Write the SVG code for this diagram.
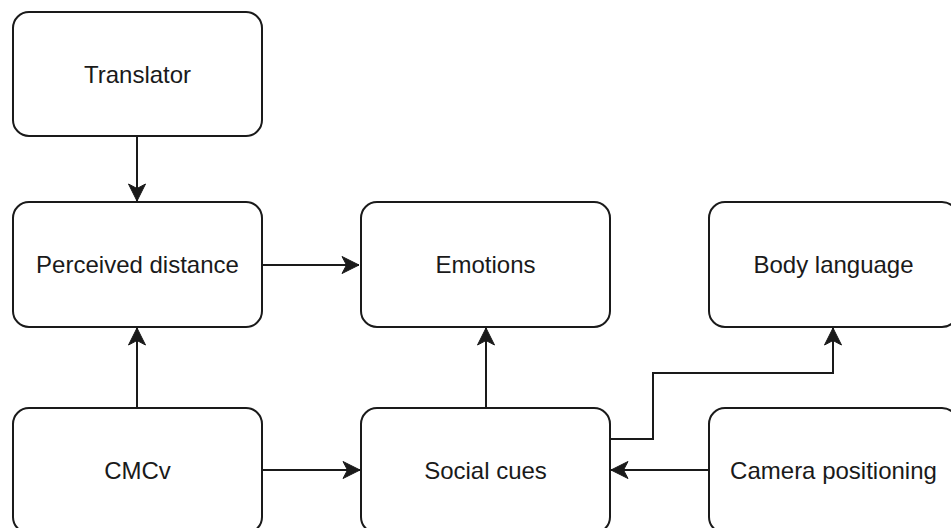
<svg xmlns="http://www.w3.org/2000/svg" width="951" height="528" viewBox="0 0 951 528">
  <style>
    .box { fill: #ffffff; stroke: #1a1a1a; stroke-width: 2; }
    .label { font-family: "Liberation Sans", Arial, sans-serif; font-size: 24px; fill: #1a1a1a; text-anchor: middle; }
    .edge { fill: none; stroke: #1a1a1a; stroke-width: 2; marker-end: url(#arrow); }
  </style>
  <defs>
    <marker id="arrow" markerUnits="userSpaceOnUse" markerWidth="20" markerHeight="20" viewBox="-18 -10 20 20" refX="0" refY="0" orient="auto">
      <path d="M0,0 L-17,-8.5 L-12.5,0 L-17,8.5 Z" fill="#1a1a1a" stroke="#1a1a1a" stroke-width="1" stroke-linejoin="miter"/>
    </marker>
  </defs>

  <rect width="951" height="528" fill="#ffffff"/>

  <!-- connectors -->
  <g id="connectors">
    <path class="edge" d="M137,136 L137,201"/>
    <path class="edge" d="M262,265 L359,265"/>
    <path class="edge" d="M137,408 L137,328"/>
    <path class="edge" d="M262,470 L360,470"/>
    <path class="edge" d="M486,408 L486,328"/>
    <path class="edge" d="M610,439 L653,439 L653,373 L833,373 L833,328"/>
    <path class="edge" d="M709,470 L611,470"/>
  </g>

  <!-- nodes -->
  <g id="translator">
    <rect class="box" x="13" y="12" width="249" height="124" rx="16" ry="16"/>
    <text class="label" x="137.5" y="82.5">Translator</text>
  </g>
  <g id="perceived-distance">
    <rect class="box" x="13" y="202" width="249" height="125" rx="16" ry="16"/>
    <text class="label" x="137.5" y="273">Perceived distance</text>
  </g>
  <g id="emotions">
    <rect class="box" x="361" y="202" width="249" height="125" rx="16" ry="16"/>
    <text class="label" x="485.5" y="273">Emotions</text>
  </g>
  <g id="body-language">
    <rect class="box" x="709" y="202" width="249" height="125" rx="16" ry="16"/>
    <text class="label" x="833.5" y="273">Body language</text>
  </g>
  <g id="cmcv">
    <rect class="box" x="13" y="408" width="249" height="125" rx="16" ry="16"/>
    <text class="label" x="137.5" y="478.5">CMCv</text>
  </g>
  <g id="social-cues">
    <rect class="box" x="361" y="408" width="249" height="125" rx="16" ry="16"/>
    <text class="label" x="485.5" y="478.5">Social cues</text>
  </g>
  <g id="camera-positioning">
    <rect class="box" x="709" y="408" width="249" height="125" rx="16" ry="16"/>
    <text class="label" x="833.5" y="478.5">Camera positioning</text>
  </g>
</svg>
